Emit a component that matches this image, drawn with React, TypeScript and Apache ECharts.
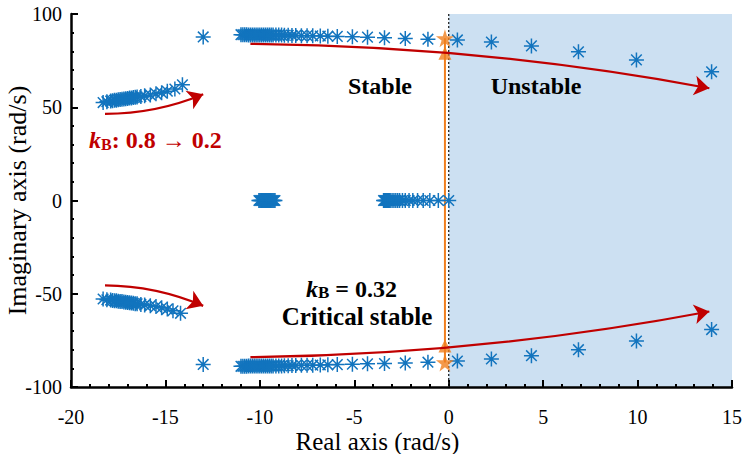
import React, { useEffect, useRef } from 'react';
import * as echarts from 'echarts';

// ---------- data ----------
// upper oscillatory branch (imag ~ +88)
const upperReal = [-13.0, -11.0, -10.9, -10.8, -10.7, -10.6, -10.5, -10.4, -10.3, -10.2, -10.1, -10.0, -9.9, -9.8, -9.7, -9.6, -9.5, -9.4, -9.3, -9.15, -9.0, -8.85, -8.7, -8.5, -8.3, -8.1, -7.8, -7.5, -7.2, -6.8, -6.4, -5.9, -5.1, -4.3, -3.4, -2.3, -1.1, 0.46, 2.26, 4.38, 6.87, 9.94, 13.92];
const upperImag = [87.7, 88.9, 88.9, 88.9, 88.9, 88.8, 88.8, 88.8, 88.8, 88.8, 88.8, 88.8, 88.8, 88.8, 88.8, 88.7, 88.7, 88.7, 88.7, 88.7, 88.7, 88.7, 88.6, 88.6, 88.5, 88.5, 88.4, 88.4, 88.3, 88.2, 88.1, 88.0, 87.8, 87.6, 87.3, 86.9, 86.5, 86.1, 85.0, 82.9, 79.7, 75.4, 69.0];
// lower oscillatory branch (imag ~ -88)
const lowerReal = [-13.0, -11.0, -10.9, -10.8, -10.7, -10.6, -10.5, -10.4, -10.3, -10.2, -10.1, -10.0, -9.9, -9.8, -9.7, -9.6, -9.5, -9.4, -9.3, -9.15, -9.0, -8.85, -8.7, -8.5, -8.3, -8.1, -7.8, -7.5, -7.2, -6.8, -6.4, -5.9, -5.1, -4.3, -3.4, -2.3, -1.1, 0.46, 2.26, 4.38, 6.87, 9.94, 13.92];
const lowerImag = [-87.9, -88.9, -88.9, -88.9, -88.9, -88.8, -88.8, -88.8, -88.8, -88.8, -88.8, -88.8, -88.8, -88.8, -88.8, -88.7, -88.7, -88.7, -88.7, -88.7, -88.7, -88.7, -88.6, -88.6, -88.5, -88.5, -88.4, -88.4, -88.3, -88.2, -88.1, -88.0, -87.8, -87.6, -87.4, -87.1, -86.7, -86.1, -85.0, -83.2, -80.0, -75.4, -69.2];
// mid-frequency branch (imag ~ +/-55)
const midUpperReal = [-18.3, -18.1, -17.9, -17.8, -17.7, -17.6, -17.5, -17.4, -17.3, -17.2, -17.1, -17.0, -16.9, -16.8, -16.7, -16.6, -16.5, -16.3, -16.1, -15.8, -15.5, -15.2, -14.9, -14.5, -14.1];
const midUpperImag = [52.5, 53.0, 53.3, 53.5, 53.7, 53.8, 54.0, 54.1, 54.3, 54.4, 54.6, 54.7, 54.9, 55.0, 55.2, 55.3, 55.5, 55.8, 56.1, 56.6, 57.2, 57.8, 58.6, 59.8, 62.0];
const midLowerReal = [-18.3, -18.1, -17.9, -17.8, -17.7, -17.6, -17.5, -17.4, -17.3, -17.2, -17.1, -17.0, -16.9, -16.8, -16.7, -16.6, -16.5, -16.3, -16.1, -15.8, -15.5, -15.2, -14.9, -14.6, -14.2];
const midLowerImag = [-52.8, -53.2, -53.4, -53.6, -53.7, -53.8, -54.0, -54.1, -54.2, -54.4, -54.5, -54.7, -54.8, -55.0, -55.1, -55.3, -55.4, -55.7, -56.0, -56.4, -56.9, -57.5, -58.2, -59.1, -60.5];
// real-axis poles
const realPolesA = [-10.05, -10.0, -9.95, -9.9, -9.85, -9.8, -9.75, -9.7, -9.65, -9.6, -9.55, -9.5, -9.45, -9.4, -9.35, -9.3, -9.25, -9.2];
const realPolesB = [-3.45, -3.4, -3.35, -3.3, -3.25, -3.2, -3.15, -3.1, -3.0, -2.9, -2.8, -2.7, -2.6, -2.45, -2.3, -2.1, -1.9, -1.65, -1.35, -1.0, -0.55, 0.0];
// critical (kB = 0.32) poles
const critReal = [-0.2, -0.2];
const critStarImag = [87.0, -86.8];
const critTriImag = [79.0, -78.0];
// arrows [start, end]
const arrowUpperRight = [[-10.5, 84.0], [13.8, 60.2]];
const arrowLowerRight = [[-10.5, -84.0], [13.8, -59.5]];
const arrowUpperLeft = [[-18.2, 46.5], [-13.0, 57.0]];
const arrowLowerLeft = [[-18.2, -45.5], [-13.0, -56.5]];

const FONT = 'Liberation Serif';
const BLUE = '#1274BE';
const ORANGE = '#F07F1E';
const RED = '#C00000';
const STAR8 = 'path://M0,-10L0,10M-10,0L10,0M-7.07,-7.07L7.07,7.07M-7.07,7.07L7.07,-7.07';
const STAR5 = 'path://M50,0L61,35L98,35L68,57L79,91L50,70L21,91L32,57L2,35L39,35Z';

function pairs(xs: number[], ys: number[]) {
  return xs.map((x, i) => [x, ys[i]]);
}

export default function App() {
  const ref = useRef<HTMLDivElement>(null);
  useEffect(() => {
    if (!ref.current) return;
    const chart = echarts.init(ref.current, undefined, { renderer: 'svg' });
    const bluePts = [
      ...pairs(upperReal, upperImag),
      ...pairs(lowerReal, lowerImag),
      ...pairs(midUpperReal, midUpperImag),
      ...pairs(midLowerReal, midLowerImag),
      ...realPolesA.map((x) => [x, 0]),
      ...realPolesB.map((x) => [x, 0]),
    ];
    const axisCommon = {
      type: 'value' as const,
      splitLine: { show: false },
      minorSplitLine: { show: false },
      nameMoveOverlap: false,
      axisLine: { show: true, onZero: false, lineStyle: { color: '#000', width: 2.5 } },
      axisTick: { show: true, inside: true, length: 7, lineStyle: { color: '#000', width: 2 } },
      minorTick: { show: true, splitNumber: 5, length: 3, lineStyle: { color: '#000', width: 2 } },
    };
    chart.setOption({
      animation: false,
      grid: { left: 71, right: 17, top: 14, bottom: 67, containLabel: false, outerBoundsMode: 'none' },
      xAxis: {
        ...axisCommon,
        min: -20,
        max: 15,
        interval: 5,
        name: 'Real axis (rad/s)',
        nameLocation: 'middle',
        nameGap: 42,
        nameTextStyle: { fontFamily: FONT, fontSize: 25, color: '#000', padding: [0, 48, 0, 0] },
        axisLabel: { fontFamily: FONT, fontSize: 20, color: '#000', margin: 20 },
      },
      yAxis: {
        ...axisCommon,
        min: -100,
        max: 100,
        interval: 50,
        name: 'Imaginary axis (rad/s)',
        nameLocation: 'middle',
        nameGap: 41,
        nameTextStyle: { fontFamily: FONT, fontSize: 26, color: '#000' },
        axisLabel: { fontFamily: FONT, fontSize: 20, color: '#000', margin: 9 },
      },
      series: [
        {
          type: 'line',
          z: 0,
          silent: true,
          data: [[0, 100], [15, 100]],
          showSymbol: false,
          symbol: 'none',
          lineStyle: { width: 0 },
          areaStyle: { color: '#CCE0F2', opacity: 1, origin: 'start' },
        },
        {
          type: 'line',
          z: 1,
          silent: true,
          data: [[0, 100], [0, -100]],
          symbol: 'none',
          lineStyle: { color: '#222', width: 1.3, type: [2, 2] },
        },
        {
          type: 'line',
          z: 2,
          silent: true,
          data: pairs(critReal, critStarImag),
          symbol: 'none',
          lineStyle: { color: ORANGE, width: 2 },
        },
        {
          type: 'scatter',
          z: 3,
          silent: true,
          data: bluePts,
          symbol: STAR8,
          symbolSize: 15,
          itemStyle: { color: 'rgba(0,0,0,0)', borderColor: BLUE, borderWidth: 1.5, opacity: 1 },
        },
        {
          type: 'scatter',
          z: 4,
          silent: true,
          data: pairs(critReal, critStarImag),
          symbol: STAR5,
          symbolSize: 18,
          itemStyle: { color: ORANGE },
        },
        {
          type: 'scatter',
          z: 4,
          silent: true,
          data: pairs(critReal, critTriImag),
          symbol: 'triangle',
          symbolSize: 13,
          itemStyle: { color: ORANGE },
        },
        {
          type: 'lines',
          coordinateSystem: 'cartesian2d',
          z: 5,
          silent: true,
          symbol: ['none', 'arrow'],
          symbolSize: 15,
          lineStyle: { color: RED, width: 2.2, opacity: 1 },
          data: [
            { coords: arrowUpperRight, lineStyle: { curveness: 0.044 } },
            { coords: arrowLowerRight, lineStyle: { curveness: -0.044 } },
            { coords: arrowUpperLeft, lineStyle: { curveness: -0.1 } },
            { coords: arrowLowerLeft, lineStyle: { curveness: 0.1 } },
          ],
        },
      ],
      graphic: [
        {
          type: 'text', x: 380, y: 86, z: 100, silent: true,
          style: { text: 'Stable', fontFamily: FONT, fontWeight: 'bold', fontSize: 24, fill: '#000', align: 'center', verticalAlign: 'middle' },
        },
        {
          type: 'text', x: 536, y: 86, z: 100, silent: true,
          style: { text: 'Unstable', fontFamily: FONT, fontWeight: 'bold', fontSize: 24, fill: '#000', align: 'center', verticalAlign: 'middle' },
        },
        {
          type: 'text', x: 89, y: 140, z: 100, silent: true,
          style: {
            text: '{k|k}{b|B}{t|: 0.8 → 0.2}',
            align: 'left', verticalAlign: 'middle', fill: RED,
            rich: {
              k: { fontFamily: FONT, fontWeight: 'bold', fontStyle: 'italic', fontSize: 24, fill: RED },
              b: { fontFamily: FONT, fontWeight: 'bold', fontSize: 16, fill: RED, verticalAlign: 'bottom' },
              t: { fontFamily: FONT, fontWeight: 'bold', fontSize: 24, fill: RED },
            },
          },
        },
        {
          type: 'text', x: 306, y: 289, z: 100, silent: true,
          style: {
            text: '{k|k}{b|B}{t| = 0.32}',
            align: 'left', verticalAlign: 'middle', fill: '#000',
            rich: {
              k: { fontFamily: FONT, fontWeight: 'bold', fontStyle: 'italic', fontSize: 24, fill: '#000' },
              b: { fontFamily: FONT, fontWeight: 'bold', fontSize: 17, fill: '#000', verticalAlign: 'bottom' },
              t: { fontFamily: FONT, fontWeight: 'bold', fontSize: 24, fill: '#000' },
            },
          },
        },
        {
          type: 'text', x: 357, y: 316, z: 100, silent: true,
          style: { text: 'Critical stable', fontFamily: FONT, fontWeight: 'bold', fontSize: 25, fill: '#000', align: 'center', verticalAlign: 'middle' },
        },
      ],
    });
    return () => chart.dispose();
  }, []);
  return <div ref={ref} style={{ position: 'fixed', left: 0, top: 0, width: 749, height: 454, background: '#fff' }} />;
}
